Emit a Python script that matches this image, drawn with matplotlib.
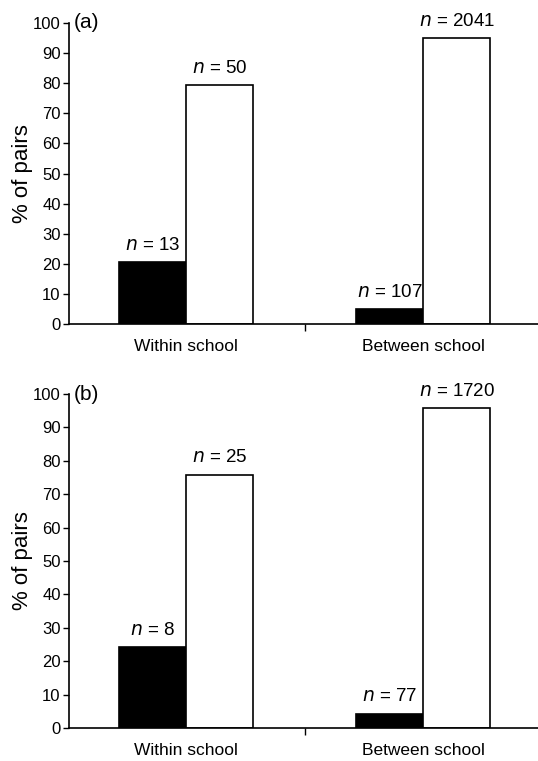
import matplotlib
matplotlib.use("Agg")
import matplotlib.pyplot as plt

plt.rcParams['font.family'] = ['Liberation Sans', 'DejaVu Sans']

categories = ["Within school", "Between school"]
panel_labels = ["(a)", "(b)"]
yticks = [0, 10, 20, 30, 40, 50, 60, 70, 80, 90, 100]

a_black = [20.6, 5.0]
a_white = [79.4, 95.0]
a_black_n = [13, 107]
a_white_n = [50, 2041]

b_black = [24.2, 4.3]
b_white = [75.8, 95.7]
b_black_n = [8, 77]
b_white_n = [25, 1720]

W, H = 538, 761
fig = plt.figure(figsize=(W / 100, H / 100), dpi=100)

def make_axes(top_px, bottom_px, left_px=69, right_px=538):
    return fig.add_axes([left_px / W, 1 - bottom_px / H,
                         (right_px - left_px) / W, (bottom_px - top_px) / H])

ax_a = make_axes(23, 324)
ax_b = make_axes(394, 728)

bw = 0.283
panels = [
    (ax_a, a_black, a_white, a_black_n, a_white_n, panel_labels[0]),
    (ax_b, b_black, b_white, b_black_n, b_white_n, panel_labels[1]),
]

for ax, blk, wht, bn, wn, plabel in panels:
    x = list(range(len(categories)))
    xb = [i - bw / 2 for i in x]
    xw = [i + bw / 2 for i in x]
    ax.bar(xb, blk, width=bw, color='black', edgecolor='black', linewidth=1.2, zorder=2)
    ax.bar(xw, wht, width=bw, color='white', edgecolor='black', linewidth=1.2, zorder=2)
    for xi, v, n in zip(xb, blk, bn):
        ax.annotate(f"$n$ = {n}", (xi, v), xytext=(0, 6), textcoords='offset points',
                    ha='center', va='bottom', fontsize=13.5)
    for xi, v, n in zip(xw, wht, wn):
        ax.annotate(f"$n$ = {n}", (xi, v), xytext=(0, 6), textcoords='offset points',
                    ha='center', va='bottom', fontsize=13.5)
    ax.set_xlim(-0.494, 1.485)
    ax.set_ylim(0, 100)
    ax.set_yticks(yticks)
    ax.tick_params(axis='y', direction='out', length=4, width=1, labelsize=12, pad=2)
    ax.set_xticks([0.5])
    ax.set_xticklabels([])
    ax.tick_params(axis='x', which='major', direction='out', length=5, width=1)
    ax.set_xticks(x, minor=True)
    ax.set_xticklabels(categories, minor=True)
    ax.tick_params(axis='x', which='minor', length=0, labelsize=12.5, pad=11)
    for s in ['top', 'right']:
        ax.spines[s].set_visible(False)
    for s in ['left', 'bottom']:
        ax.spines[s].set_linewidth(1.2)
    ax.set_ylabel("% of pairs", fontsize=16, labelpad=0)
    ax.text(0.01, 1.0, plabel, transform=ax.transAxes, fontsize=15,
            ha='left', va='center')

fig.savefig("out.png", dpi=100)
